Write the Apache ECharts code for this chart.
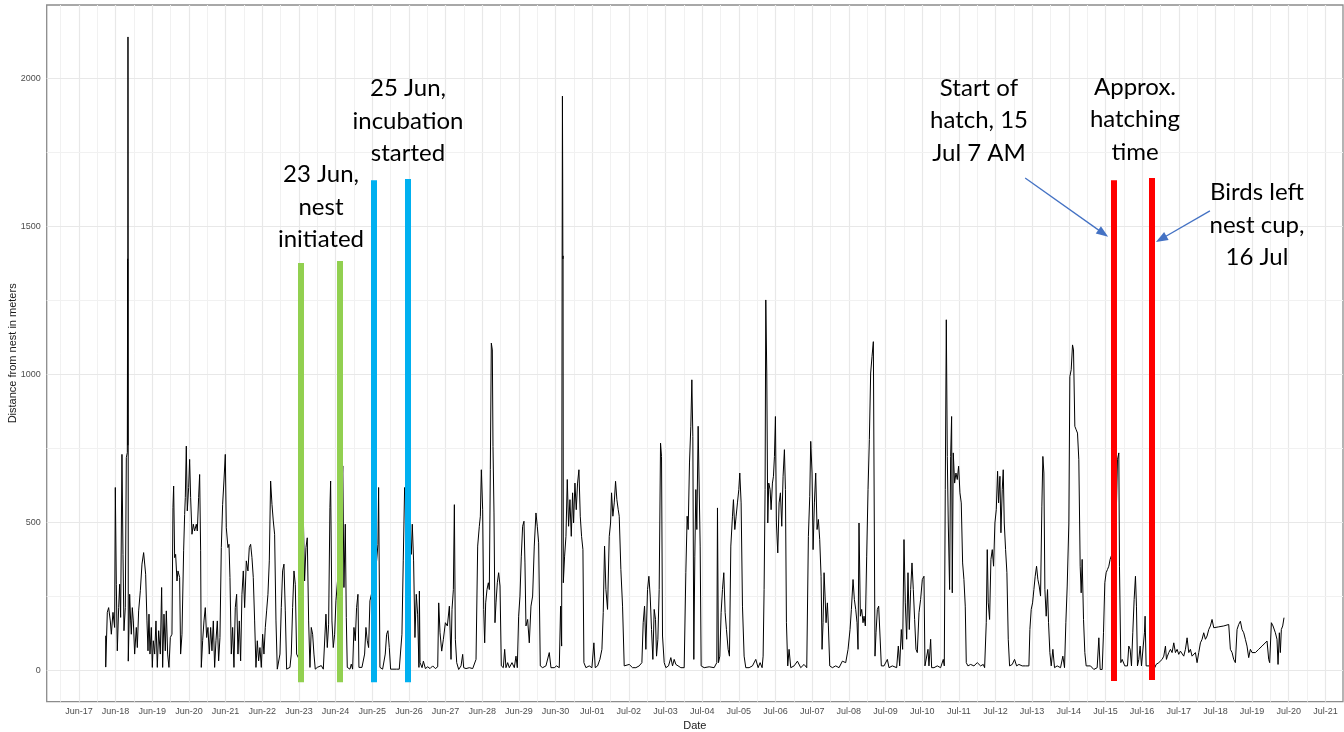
<!DOCTYPE html>
<html>
<head>
<meta charset="utf-8">
<title>Distance from nest</title>
<script src="https://cdn.jsdelivr.net/npm/echarts@6/dist/echarts.min.js"></script>
<style>
  html, body { margin: 0; padding: 0; background: #fff; }
  #main { width: 1344px; height: 732px; }
</style>
</head>
<body>
<div id="main"></div>
<script>
// time in days since 17 Jun 00:00, distance in meters
var day = [
0.728,0.730,0.773,0.810,0.855,0.883,0.928,0.973,0.992,1.019,1.046,1.083,1.110,1.137,1.173,1.201,1.228,1.264,1.292,1.319,
1.328,1.332,1.337,1.341,1.345,1.355,1.383,1.410,1.428,1.455,1.483,1.519,1.564,1.592,1.628,1.674,1.719,1.764,1.792,1.819,
1.855,1.883,1.910,1.937,1.974,2.001,2.028,2.065,2.101,2.137,2.174,2.219,2.255,2.283,2.319,2.355,2.383,2.419,2.455,2.492,
2.537,2.564,2.583,2.610,2.637,2.674,2.701,2.746,2.773,2.810,2.855,2.883,2.901,2.928,2.955,2.992,3.019,3.046,3.083,3.119,
3.155,3.201,3.228,3.264,3.292,3.319,3.337,3.374,3.410,3.446,3.483,3.519,3.555,3.592,3.628,3.665,3.701,3.737,3.774,3.810,
3.846,3.883,3.919,3.955,3.992,4.019,4.065,4.092,4.119,4.155,4.192,4.228,4.264,4.301,4.337,4.374,4.410,4.446,4.483,4.519,
4.565,4.610,4.646,4.683,4.719,4.755,4.792,4.828,4.865,4.901,4.937,4.974,5.010,5.046,5.083,5.119,5.155,5.192,5.228,5.265,
5.301,5.337,5.374,5.410,5.446,5.483,5.519,5.555,5.592,5.628,5.665,5.719,5.755,5.792,5.828,5.865,5.901,5.937,5.974,6.028,
6.083,6.119,6.155,6.192,6.228,6.265,6.301,6.337,6.374,6.410,6.446,6.501,6.555,6.610,6.665,6.701,6.737,6.774,6.810,6.846,
6.865,6.901,6.937,6.974,7.010,7.110,7.196,7.228,7.265,7.292,7.319,7.355,7.392,7.428,7.465,7.501,7.537,7.573,7.610,7.637,
7.674,7.719,7.755,7.792,7.828,7.865,7.901,7.937,8.020,8.119,8.155,8.174,8.210,8.246,8.283,8.319,8.355,8.392,8.428,8.465,
8.501,8.565,8.610,8.665,8.737,8.774,8.810,8.846,8.883,8.950,9.010,9.065,9.092,9.128,9.165,9.201,9.238,9.274,
9.286,9.304,9.359,9.395,9.450,9.513,9.577,9.649,9.722,9.786,9.813,9.849,9.895,9.940,9.995,10.049,10.104,10.149,10.176,10.213,
10.240,10.267,10.304,10.358,10.422,10.467,10.494,10.558,10.649,10.740,10.794,10.831,10.876,10.921,10.949,10.976,11.012,11.040,11.067,11.094,
11.130,11.167,11.194,11.221,11.248,11.276,11.294,11.321,11.348,11.376,11.412,11.448,11.485,11.521,11.576,11.612,11.648,11.694,11.739,11.812,
11.875,11.921,11.957,11.993,12.030,12.066,12.102,12.139,12.166,12.193,12.239,12.284,12.330,12.375,12.420,12.466,12.502,12.539,12.584,12.648,
12.738,12.829,12.875,12.966,13.029,13.102,13.138,13.166,13.180,13.188,13.195,13.200,13.205,13.212,13.247,13.284,13.320,13.356,13.393,13.429,
13.465,13.492,13.529,13.565,13.601,13.638,13.674,13.710,13.747,13.774,13.828,13.919,13.992,14.046,14.083,14.147,14.210,14.265,14.301,14.337,
14.374,14.419,14.465,14.501,14.528,14.564,14.601,14.637,14.673,14.710,14.737,14.782,14.828,14.873,14.919,15.010,15.100,15.191,15.282,15.355,
15.391,15.428,15.464,15.509,15.546,15.582,15.618,15.655,15.691,15.727,15.755,15.791,15.827,15.864,15.891,15.918,15.964,16.009,16.082,16.145,
16.191,16.236,16.282,16.327,16.418,16.509,16.554,16.590,16.618,16.654,16.690,16.718,16.745,16.772,16.799,16.827,16.854,16.890,16.918,16.945,
16.972,17.054,17.190,17.326,17.399,17.417,17.444,17.481,17.517,17.553,17.590,17.626,17.662,17.708,17.744,17.781,17.826,17.853,17.890,17.926,
17.962,17.999,18.026,18.062,18.099,18.144,18.189,
18.280,18.371,18.462,18.526,18.580,18.635,18.662,18.689,18.716,18.735,18.762,18.789,18.816,18.853,18.880,18.916,18.944,18.971,18.998,19.025,
19.062,19.098,19.134,19.171,19.207,19.243,19.271,19.298,19.334,19.370,19.416,19.507,19.598,19.688,19.779,19.852,19.897,19.934,19.961,19.997,
20.025,20.061,20.097,20.134,20.170,20.206,20.243,20.270,20.297,20.325,20.352,20.379,20.415,20.443,20.479,20.552,20.642,20.733,20.824,20.915,
20.979,21.033,21.070,21.115,21.151,21.188,21.224,21.251,21.278,21.315,21.351,21.387,21.415,21.451,21.487,21.524,21.560,21.596,21.633,21.669,
21.696,21.714,21.742,21.778,21.814,21.851,21.887,21.960,22.051,22.096,22.187,22.305,22.350,22.387,22.432,22.468,22.505,22.541,22.578,22.614,
22.650,22.687,22.723,22.759,22.795,22.832,22.868,22.914,22.959,23.005,23.050,23.077,23.123,23.159,23.186,23.232,23.259,23.323,23.413,23.504,
23.577,23.604,23.631,23.659,23.686,23.713,23.749,23.777,23.804,23.822,23.849,23.886,23.922,23.958,23.995,24.031,24.067,24.104,24.140,24.176,
24.204,24.249,24.322,24.413,24.504,24.594,24.667,24.704,24.749,24.776,24.803,24.840,24.876,24.913,24.949,24.985,25.022,25.058,25.085,25.122,
25.149,25.185,25.212,25.240,25.276,25.312,25.349,25.385,25.458,25.521,25.576,25.639,25.730,25.821,25.912,25.939,25.975,26.012,26.048,26.084,
26.121,26.157,26.193,26.230,26.266,26.293,26.321,26.348,26.384,26.420,26.448,26.484,26.521,26.566,26.611,26.684,26.775,26.838,26.884,26.920,
26.957,27.002,27.029,27.066,27.102,
27.129,27.165,27.202,27.238,27.274,27.311,27.338,27.365,27.402,27.438,27.474,27.511,27.592,27.683,27.774,27.820,27.856,27.911,27.947,27.983,
28.019,28.056,28.092,28.128,28.200,28.292,28.328,28.365,28.383,28.419,28.456,28.492,28.528,28.565,28.601,28.637,28.674,28.710,28.746,28.783,
28.819,28.846,28.874,28.910,28.946,28.983,29.028,29.064,29.082,29.110,29.230,29.346,29.382,29.419,29.455,29.500,29.546,29.591,29.637,29.664,
29.691,29.728,29.773,29.818,29.864,29.909,29.955,30.000,30.045,30.091,30.136,30.182,30.227,30.273,30.318,30.363,30.409,30.454,30.500,30.545,
30.591,30.636,30.681,30.727,30.772,30.818,30.863,30.908,30.954,31.090,31.227,31.363,31.408,31.454,31.499,31.544,31.590,31.635,31.681,31.726,
31.772,31.817,31.862,31.908,31.953,31.999,32.090,32.180,32.271,32.408,32.453,32.480,32.526,32.571,32.635,32.680,32.708,32.744,32.771,32.798,
32.835,32.871
];
var dist = [
116,10,195,211,166,121,195,144,617,290,65,211,290,178,729,391,133,211,718,735,
1390,760,2140,1380,30,31,256,166,121,211,166,54,144,76,200,268,358,397,391,324,
166,65,189,54,144,9,99,54,166,9,133,54,279,9,189,65,200,54,9,110,
121,549,622,380,391,301,335,313,54,121,403,526,583,757,538,617,712,583,459,493,
470,493,470,583,661,403,9,99,166,211,110,144,54,144,65,166,9,99,166,31,
110,414,560,639,729,481,414,425,313,54,144,9,211,256,54,166,31,256,335,211,
369,335,414,425,380,313,166,9,99,31,76,9,121,54,144,200,256,369,639,560,
504,459,166,3,3,54,211,335,358,200,3,0,9,54,211,335,290,54,54,31,
369,526,301,414,447,166,9,144,121,54,3,9,3,15,3,9,189,76,155,549,
639,166,76,121,234,391,690,279,493,178,9,9,3,20,3,144,99,211,256,9,
3,9,3,54,144,99,76,234,279,369,425,617,9,3,3,3,54,121,133,76,
3,3,7,3,3,3,121,369,617,560,493,391,493,369,110,256,189,9,
267,25,8,30,5,11,5,14,5,11,227,126,64,104,160,149,216,36,205,272,
559,104,25,2,14,53,8,5,8,5,11,36,419,486,520,677,542,205,92,227,
272,295,272,677,1105,1082,756,531,160,227,295,329,284,14,8,70,8,25,8,25,
8,47,8,182,250,385,486,503,362,149,171,92,216,250,419,531,486,430,14,8,
14,59,8,8,14,8,216,81,1400,1940,1660,1390,1400,295,385,452,644,486,576,452,
599,497,632,542,632,677,520,452,407,25,8,14,8,92,8,14,36,70,194,419,
272,205,452,497,599,520,565,638,576,542,520,340,216,14,8,19,8,8,14,25,
160,216,70,272,317,250,137,36,205,171,47,104,272,767,722,115,25,8,14,42,
14,36,19,14,8,8,329,520,475,700,824,981,790,36,385,610,475,824,824,419,
14,8,11,8,25,548,25,47,194,272,329,194,137,70,47,419,520,576,475,520,
565,610,666,565,216,47,8,
8,14,36,8,25,8,47,272,610,1251,1004,497,632,610,542,632,655,722,857,497,
396,565,599,486,655,745,610,160,14,70,8,14,30,8,19,8,452,587,773,666,
407,565,666,475,509,441,317,70,160,329,250,160,227,149,14,8,14,8,30,25,
70,137,205,306,239,205,160,70,497,182,205,160,182,149,385,610,779,1004,1060,1110,
1105,47,126,205,216,115,14,14,36,8,14,8,81,14,137,70,441,227,104,329,
137,272,362,272,171,70,59,194,239,306,317,14,8,70,14,104,8,8,14,8,
36,14,610,1184,722,497,272,722,857,261,734,632,666,644,689,599,565,362,306,216,
25,14,19,14,25,14,19,8,160,407,227,171,374,407,351,497,542,672,565,655,
464,610,677,497,407,329,104,14,19,36,14,19,14,14,14,137,205,227,272,317,
351,306,284,250,554,722,666,272,182,272,160,59,14,70,8,14,8,47,8,160,
284,497,992,1015,1099,
1082,824,812,801,711,351,261,374,171,59,14,8,14,2,8,109,2,2,126,295,
329,340,351,374,400,509,711,734,351,25,36,42,14,8,14,81,70,14,126,239,
317,216,14,36,81,14,14,126,182,14,14,8,19,14,25,19,36,47,81,36,
47,59,70,59,92,59,70,53,64,59,47,70,109,59,70,47,42,59,25,59,
92,104,126,104,115,137,149,171,143,146,149,154,70,59,36,25,137,154,165,137,
126,104,81,42,70,59,59,70,81,98,36,25,160,149,126,104,19,126,59,137,
149,177
];

// axis ticks
var tickDays = [];
for (var i = 0; i <= 34; i++) tickDays.push(i);
var tickLabels = ['Jun-17','Jun-18','Jun-19','Jun-20','Jun-21','Jun-22','Jun-23','Jun-24','Jun-25','Jun-26','Jun-27','Jun-28',
  'Jun-29','Jun-30','Jul-01','Jul-02','Jul-03','Jul-04','Jul-05','Jul-06','Jul-07','Jul-08','Jul-09','Jul-10','Jul-11',
  'Jul-12','Jul-13','Jul-14','Jul-15','Jul-16','Jul-17','Jul-18','Jul-19','Jul-20','Jul-21'];
var minorDays = [];
for (var i = -0.5; i <= 34; i++) minorDays.push(i);
var yTicks = [0, 500, 1000, 1500, 2000];
var yMinor = [250, 750, 1250, 1750];

// event markers: day, bottom, top, colour
var markDay = [6.06, 7.12, 8.03, 8.98, 28.24, 29.26];
var markBottom = [-41, -41, -41, -41, -37, -34];
var markTop = [1376, 1383, 1656, 1660, 1656, 1663];
var markColor = ['#92D050', '#92D050', '#00B0F0', '#00B0F0', '#FF0000', '#FF0000'];

// arrows: [startDay, startDist, endDay, endDist]
var arrows = [[25.81, 1663, 27.94, 1476], [30.85, 1552, 29.52, 1457]];

var seriesData = [];
for (var i = 0; i < day.length; i++) seriesData.push([day[i], dist[i]]);

var gridLines = [];
tickDays.forEach(function (d) { gridLines.push({xAxis: d, lineStyle: {color: '#e8e8e8', width: 1.2, type: 'solid'}}); });
minorDays.forEach(function (d) { gridLines.push({xAxis: d, lineStyle: {color: '#f1f1f1', width: 1, type: 'solid'}}); });
yTicks.forEach(function (v) { gridLines.push({yAxis: v, lineStyle: {color: '#e8e8e8', width: 1.2, type: 'solid'}}); });
yMinor.forEach(function (v) { gridLines.push({yAxis: v, lineStyle: {color: '#f1f1f1', width: 1, type: 'solid'}}); });

var markLines = [];
for (var i = 0; i < markDay.length; i++) {
  markLines.push([
    {coord: [markDay[i], markBottom[i]], lineStyle: {color: markColor[i], width: 6, type: 'solid', cap: 'butt'}},
    {coord: [markDay[i], markTop[i]]}
  ]);
}
var arrowLines = arrows.map(function (a) {
  return [{coord: [a[0], a[1]]}, {coord: [a[2], a[3]]}];
});

var myChart = echarts.init(document.getElementById('main'));

var noteFont = '24px Lato';
function note(text, x, y) {
  return {
    type: 'text', x: x, y: y, z: 100,
    style: {text: text, font: noteFont, fill: '#000', align: 'center', verticalAlign: 'middle', lineHeight: 32.5}
  };
}

var option = {
  animation: false,
  backgroundColor: '#fff',
  grid: {
    left: 46.7, top: 5, right: 1, bottom: 30.3,
    containLabel: false, outerBoundsMode: 'none',
    show: true, borderColor: '#8c8c8c', borderWidth: 1.3, backgroundColor: '#fff'
  },
  xAxis: {
    type: 'value', min: -0.88, max: 34.48,
    axisLine: {show: false},
    axisTick: {show: true, customValues: tickDays, length: 4, lineStyle: {color: '#555'}},
    axisLabel: {
      customValues: tickDays, margin: 5, fontSize: 9, color: '#4d4d4d', fontFamily: 'Liberation Sans',
      formatter: function (v) { return tickLabels[Math.round(v)]; }
    },
    splitLine: {show: false},
    name: 'Date', nameLocation: 'middle', nameGap: 19, nameMoveOverlap: false,
    nameTextStyle: {fontSize: 11, color: '#1a1a1a', fontFamily: 'Liberation Sans'}
  },
  yAxis: {
    type: 'value', min: -107, max: 2248,
    axisLine: {show: false},
    axisTick: {show: true, customValues: yTicks, length: 4, lineStyle: {color: '#555'}},
    axisLabel: {
      customValues: yTicks, margin: 6, fontSize: 9, color: '#4d4d4d', fontFamily: 'Liberation Sans',
      formatter: function (v) { return String(v); }
    },
    splitLine: {show: false},
    name: 'Distance from nest in meters', nameLocation: 'middle', nameGap: 28, nameMoveOverlap: false,
    nameTextStyle: {fontSize: 11, color: '#1a1a1a', fontFamily: 'Liberation Sans'}
  },
  series: [
    {
      type: 'line', data: [], z: 1, silent: true,
      markLine: {z: 1, silent: true, symbol: 'none', label: {show: false}, animation: false, data: gridLines}
    },
    {
      type: 'line', data: seriesData, z: 3, showSymbol: false, sampling: null, silent: true,
      lineStyle: {color: '#000', width: 1}
    },
    {
      type: 'line', data: [], z: 5, silent: true,
      markLine: {z: 5, silent: true, symbol: 'none', label: {show: false}, animation: false, data: markLines}
    },
    {
      type: 'line', data: [], z: 6, silent: true,
      markLine: {
        z: 6, silent: true, symbol: ['none', 'triangle'], symbolSize: [9, 12], label: {show: false}, animation: false,
        lineStyle: {color: '#4472C4', width: 1.3, type: 'solid'},
        itemStyle: {color: '#4472C4'},
        data: arrowLines
      }
    }
  ],
  graphic: [
    note('23 Jun,\nnest\ninitiated', 321, 207),
    note('25 Jun,\nincubation\nstarted', 408, 121),
    note('Start of\nhatch, 15\nJul 7 AM', 979, 120.5),
    note('Approx.\nhatching\ntime', 1135, 119.5),
    note('Birds left\nnest cup,\n16 Jul', 1257, 225)
  ]
};

myChart.setOption(option);
window.addEventListener('resize', function () {
  myChart.resize();
});
</script>
</body>
</html>
